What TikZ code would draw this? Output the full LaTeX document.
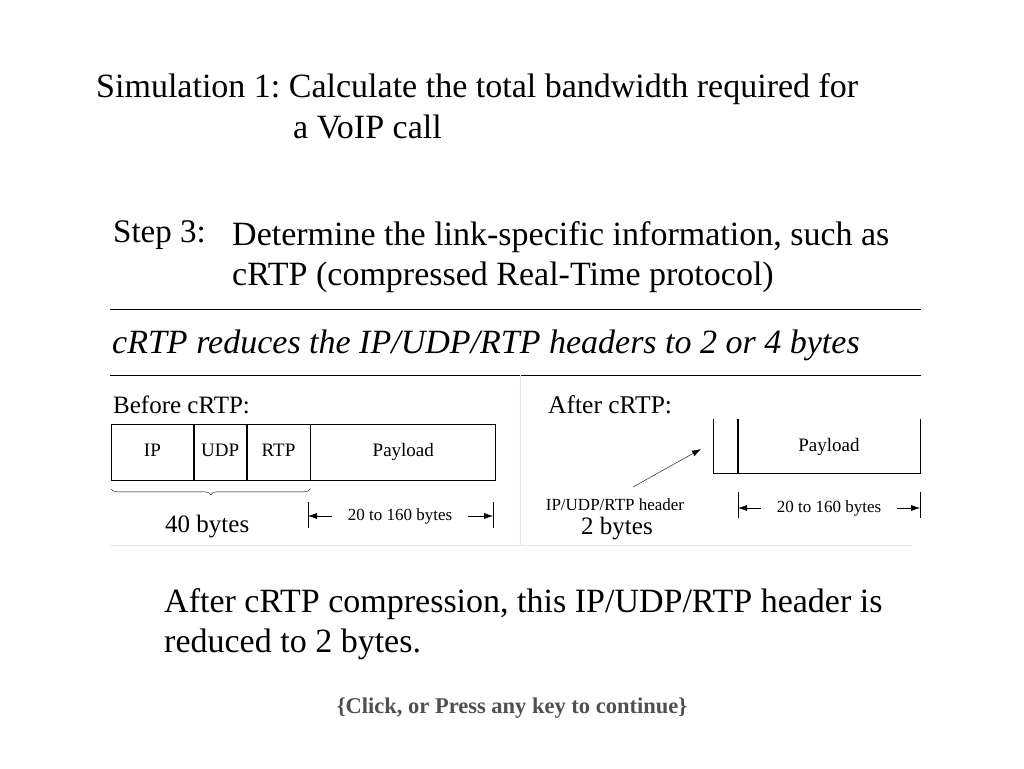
\documentclass[tikz,border=0pt]{standalone}
\usepackage{fontspec}
\setmainfont{Liberation Serif}
\usetikzlibrary{arrows.meta, positioning, decorations.pathreplacing}
\definecolor{faintrule}{RGB}{222,233,243}
\definecolor{hintgray}{RGB}{80,80,80}
\tikzset{
  bigtext/.style = {anchor=base west, inner sep=0pt, font=\fontsize{34}{40}\selectfont},
  midtext/.style = {anchor=base west, inner sep=0pt, font=\fontsize{25}{30}\selectfont},
  field/.style = {draw, thick, minimum height=56pt, inner sep=0pt, text height=13pt, text depth=4pt, font=\fontsize{19}{22}\selectfont},
  dimtext/.style = {inner sep=0pt, font=\fontsize{17}{20}\selectfont},
  dimarrow/.style = {-{Latex[length=9pt, width=6pt]}}
}

\begin{document}
\frenchspacing
\begin{tikzpicture}[x=1pt, y=-1pt]
      \useasboundingbox (0,0) rectangle (1024,768);
      % heading
      \node[bigtext] (title) at (96,97) {Simulation 1: Calculate the total bandwidth required for};
      \node[bigtext] (title2) at (293,138) {a VoIP call};
      \node[bigtext, font=\fontsize{33}{38}\selectfont] (steplabel) at (113,242) {Step 3:};
      \node[bigtext] (step1) at (232,245) {Determine the link-specific information, such as};
      \node[bigtext] (step2) at (232,285) {cRTP (compressed Real-Time protocol)};
      % rules round the claim
      \coordinate (r1w) at (110,309); \coordinate (r1e) at (921,309);
      \coordinate (r2w) at (110,375); \coordinate (r2e) at (921,375);
      \draw (r1w) -- (r1e);
      \draw (r2w) -- (r2e);
      \node[bigtext, font=\fontsize{34}{40}\selectfont\itshape] (claim) at (112,353) {cRTP reduces the IP/UDP/RTP headers to 2 or 4 bytes};
      % faint frame
      \coordinate (fn) at (520,375); \coordinate (fs) at (520,545);
      \coordinate (fw) at (110,545); \coordinate (fe) at (913,545);
      \draw[faintrule, thick] (fn) -- (fs);
      \draw[faintrule, thick] (fw) -- (fe);
      % before cRTP
      \node[midtext] (before) at (113,413) {Before cRTP:};
      \node[field, anchor=north west, minimum width=82pt] (ip) at (111,424) {IP};
      \node[field, right=0pt of ip, minimum width=52pt] (udp) {UDP};
      \node[field, right=0pt of udp, minimum width=63pt] (rtp) {RTP};
      \node[field, right=0pt of rtp, minimum width=185pt] (payload) {Payload};
      \draw[decorate, decoration={brace, mirror, amplitude=6pt}]
        ([yshift=-8pt]ip.south west) -- ([yshift=-8pt]rtp.south east);
      \node[midtext] (fortybytes) at (165,532) {40 bytes};
      \coordinate (bt1) at (308,502); \coordinate (bb1) at (308,528);
      \coordinate (bt2) at (493,502); \coordinate (bb2) at (493,528);
      \draw (bt1) -- (bb1);
      \draw (bt2) -- (bb2);
      \node[dimtext] (range1) at (400,516) {20 to 160 bytes};
      \draw[dimarrow] ([xshift=-16pt]range1.west) -- (308,516);
      \draw[dimarrow] ([xshift=16pt]range1.east) -- (493,516);
      % after cRTP
      \node[midtext, font=\fontsize{25.5}{30}\selectfont] (after) at (548,413) {After cRTP:};
      \coordinate (hdrtop) at (713,419); \coordinate (hdrbot) at (713,473);
      \coordinate (paytop) at (920,419); \coordinate (paybot) at (920,473);
      \coordinate (cuttop) at (738,419); \coordinate (cutbot) at (738,473);
      \draw[thick] (hdrtop) -- (hdrbot) -- (paybot) -- (paytop);
      \draw[very thick] (cuttop) -- (cutbot);
      \node[field, draw=none] (payload2) at (829,447) {Payload};
      \node[dimtext] (hdrlabel) at (615,505) {IP/UDP/RTP header};
      \node[midtext] (twobytes) at (581,534) {2 bytes};
      \coordinate (hdrtail) at (633,487); \coordinate (hdrtip) at (701,449);
      \draw[dimarrow] (hdrtail) -- (hdrtip);
      \coordinate (at1) at (738,492); \coordinate (ab1) at (738,518);
      \coordinate (at2) at (920,492); \coordinate (ab2) at (920,518);
      \draw (at1) -- (ab1);
      \draw (at2) -- (ab2);
      \node[dimtext] (range2) at (829,508) {20 to 160 bytes};
      \draw[dimarrow] ([xshift=-16pt]range2.west) -- (738,508);
      \draw[dimarrow] ([xshift=16pt]range2.east) -- (920,508);
      % summary
      \node[bigtext] (sum1) at (164,612) {After cRTP compression, this IP/UDP/RTP header is};
      \node[bigtext] (sum2) at (164,652) {reduced to 2 bytes.};
      \node[inner sep=0pt, text=hintgray, font=\fontsize{22.5}{26}\selectfont\bfseries] (hint) at (512,708) {\{Click, or Press any key to continue\}};
\end{tikzpicture}
\end{document}
